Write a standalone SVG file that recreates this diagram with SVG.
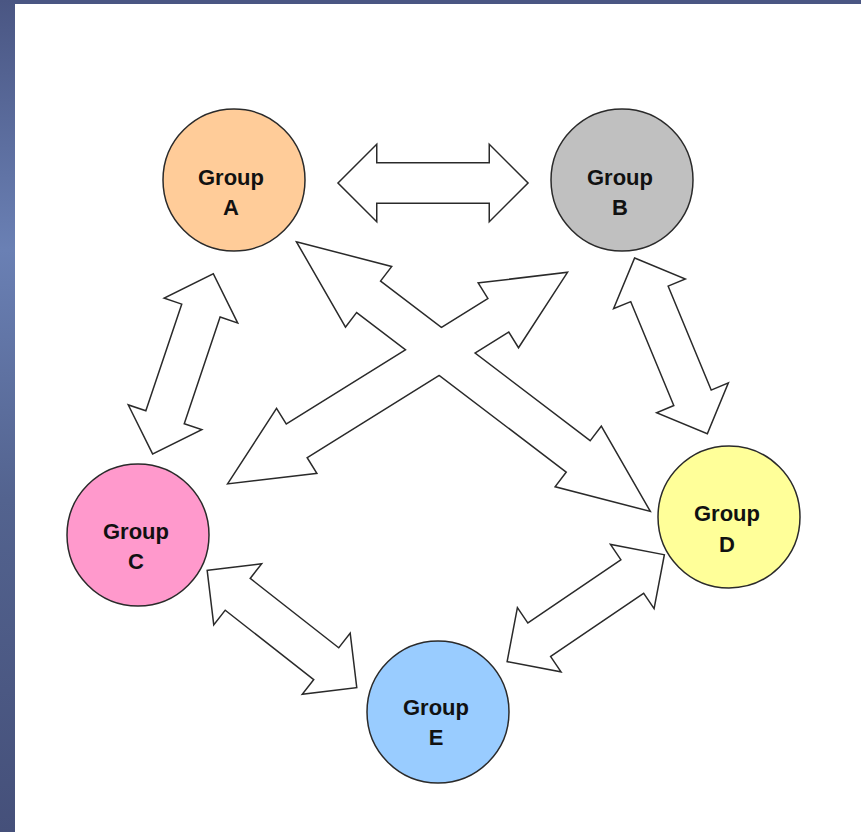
<svg xmlns="http://www.w3.org/2000/svg" xmlns:xlink="http://www.w3.org/1999/xlink" width="861" height="832" viewBox="0 0 861 832">
  <style>
    .node circle { stroke: #2a2a2a; stroke-width: 1.5; }
    .node text { font-family: "Liberation Sans", Arial, sans-serif; font-weight: bold; font-size: 22px; fill: #111; text-anchor: middle; }
    .edge-stroke { fill: none; stroke: #2a2a2a; stroke-width: 3; stroke-linejoin: miter; }
    .edge-fill { fill: #ffffff; stroke: none; }
  </style>
  <defs>
    <linearGradient id="side" x1="0" y1="0" x2="0" y2="1">
      <stop offset="0" stop-color="#4a5683"/>
      <stop offset="0.3" stop-color="#6a80b4"/>
      <stop offset="0.6" stop-color="#53638f"/>
      <stop offset="1" stop-color="#45507a"/>
    </linearGradient>
    <polygon id="arrowShort" points="0,0 37,-37 37,-19.5 151,-19.5 151,-37 188,0 151,37 151,19.5 37,19.5 37,37"/>
    <polygon id="arrowAD" points="0,0 88,-37 88,-19 353,-19 353,-37 441,0 353,37 353,19 88,19 88,37"/>
    <polygon id="arrowBC" points="0,0 79,-37 79,-19 318,-19 318,-37 397,0 318,37 318,19 79,19 79,37"/>
  </defs>

  <!-- background -->
  <rect x="0" y="0" width="861" height="832" fill="#4a5683"/>
  <rect x="0" y="0" width="15" height="832" fill="url(#side)"/>
  <rect x="15" y="4" width="846" height="828" fill="#ffffff"/>

  <g id="connectors">
    <g class="edge-stroke">
      <use xlink:href="#arrowShort" transform="translate(339,183)"/>
      <use xlink:href="#arrowShort" transform="translate(153,453) rotate(-71.4)"/>
      <use xlink:href="#arrowShort" transform="translate(635,259) rotate(67.5)"/>
      <use xlink:href="#arrowShort" transform="translate(208,571) rotate(38.1)"/>
      <use xlink:href="#arrowShort" transform="translate(508,661) rotate(-34.2)"/>
      <use xlink:href="#arrowAD" transform="translate(298,243) rotate(37.3)"/>
      <use xlink:href="#arrowBC" transform="translate(229,483) rotate(-31.9)"/>
    </g>
    <g class="edge-fill">
      <use xlink:href="#arrowShort" transform="translate(339,183)"/>
      <use xlink:href="#arrowShort" transform="translate(153,453) rotate(-71.4)"/>
      <use xlink:href="#arrowShort" transform="translate(635,259) rotate(67.5)"/>
      <use xlink:href="#arrowShort" transform="translate(208,571) rotate(38.1)"/>
      <use xlink:href="#arrowShort" transform="translate(508,661) rotate(-34.2)"/>
      <use xlink:href="#arrowAD" transform="translate(298,243) rotate(37.3)"/>
      <use xlink:href="#arrowBC" transform="translate(229,483) rotate(-31.9)"/>
    </g>
  </g>

  <g id="groupA" class="node">
    <circle cx="234" cy="180" r="71" fill="#ffcc99"/>
    <text x="231" y="185">Group</text>
    <text x="231" y="215">A</text>
  </g>
  <g id="groupB" class="node">
    <circle cx="622" cy="180" r="71" fill="#c0c0c0"/>
    <text x="620" y="185">Group</text>
    <text x="620" y="215">B</text>
  </g>
  <g id="groupC" class="node">
    <circle cx="138" cy="535" r="71" fill="#ff99cc"/>
    <text x="136" y="539">Group</text>
    <text x="136" y="569">C</text>
  </g>
  <g id="groupD" class="node">
    <circle cx="729" cy="517" r="71" fill="#ffff99"/>
    <text x="727" y="521">Group</text>
    <text x="727" y="552">D</text>
  </g>
  <g id="groupE" class="node">
    <circle cx="438" cy="712" r="71" fill="#99ccff"/>
    <text x="436" y="715">Group</text>
    <text x="436" y="745">E</text>
  </g>
</svg>
